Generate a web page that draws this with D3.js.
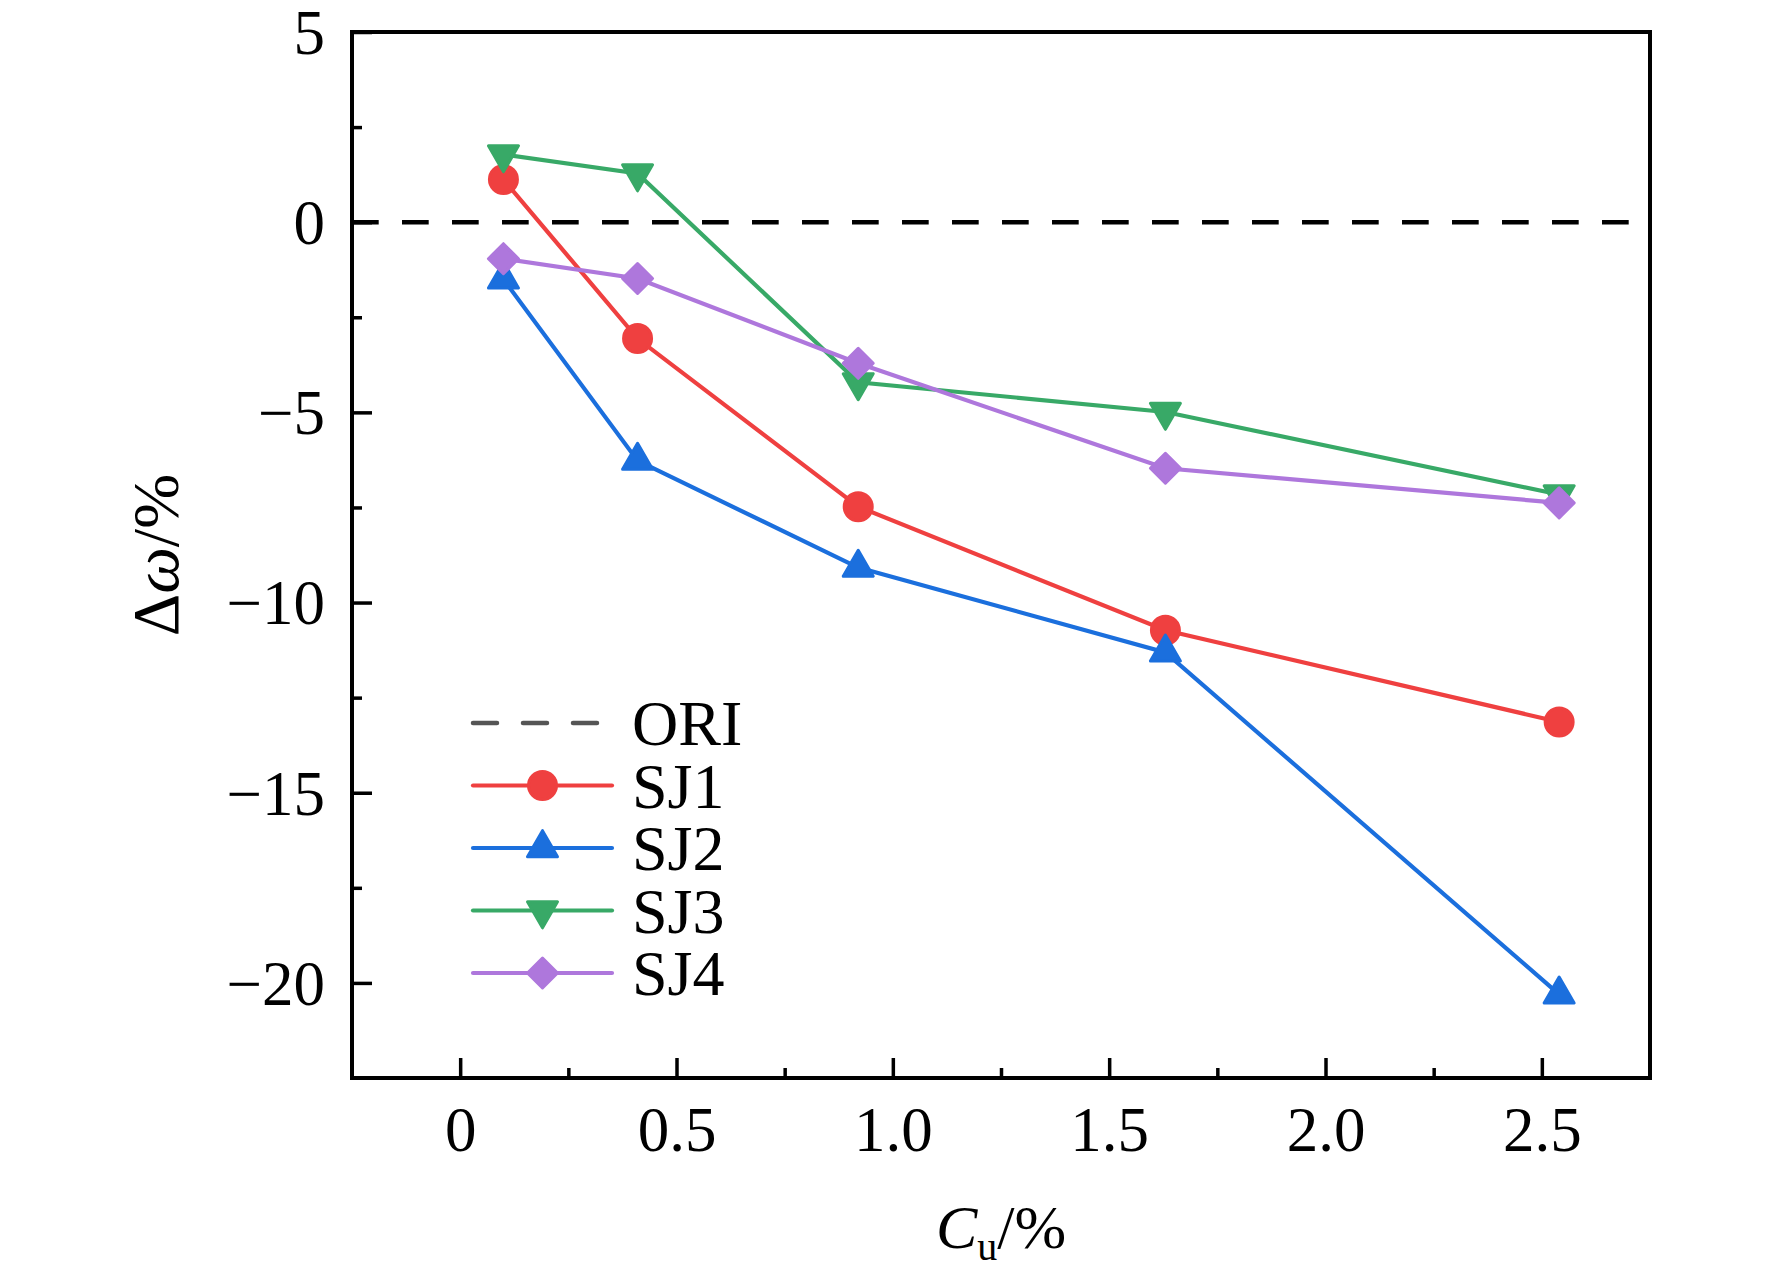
<!DOCTYPE html>
<html>
<head>
<meta charset="utf-8">
<script src="https://cdn.jsdelivr.net/npm/d3@7"></script>
<style>
  body { margin: 0; background: #fff; }
  text { font-family: "Liberation Serif", "DejaVu Serif", serif; fill: #000; }
</style>
</head>
<body>
<svg width="1772" height="1281"></svg>
<script>
// data
var cu = [0.1, 0.41, 0.92, 1.63, 2.54];
var sj1 = [1.12, -3.06, -7.48, -10.73, -13.14];
var sj2 = [-1.5, -6.27, -9.08, -11.31, -20.3];
var sj3 = [1.78, 1.28, -4.21, -4.99, -7.16];
var sj4 = [-0.96, -1.48, -3.71, -6.47, -7.38];
var names = ["SJ1", "SJ2", "SJ3", "SJ4"];
var xTicks = [0, 0.5, 1.0, 1.5, 2.0, 2.5];
var yTicks = [-20, -15, -10, -5, 0, 5];

var svg = d3.select("svg"),
    pLeft = 352, pTop = 32, pRight = 1650, pBottom = 1078;

var x = d3.scaleLinear().domain([-0.25, 2.75]).range([pLeft, pRight]);
var y = d3.scaleLinear().domain([-22.5, 5]).range([pBottom, pTop]);

var series = [
  { name: names[0], vals: sj1, color: "#EF4040", shape: "circle" },
  { name: names[1], vals: sj2, color: "#1B6FDD", shape: "up" },
  { name: names[2], vals: sj3, color: "#38A967", shape: "down" },
  { name: names[3], vals: sj4, color: "#AE77DC", shape: "diamond" }
];

// marker paths, centred on the data point (triangles on their centroid)
function marker(shape) {
  var w = 30, h = 26;
  if (shape === "circle") return d3.symbol().type(d3.symbolCircle).size(Math.PI * 14 * 14)();
  if (shape === "up") return "M0," + (-2 * h / 3) + "L" + (w / 2) + "," + (h / 3) + "L" + (-w / 2) + "," + (h / 3) + "Z";
  if (shape === "down") return "M0," + (2 * h / 3) + "L" + (w / 2) + "," + (-h / 3) + "L" + (-w / 2) + "," + (-h / 3) + "Z";
  return "M0,-15L15,0L0,15L-15,0Z";
}

// axes: ticks inward, left and bottom only
function fmtY(d) { return d < 0 ? "\u2212" + Math.abs(d) : String(d); }
function fmtX(d) { return d === 0 ? "0" : d.toFixed(1); }

var gx = svg.append("g").attr("transform", "translate(0," + pBottom + ")")
  .call(d3.axisBottom(x).tickValues(xTicks).tickFormat(fmtX).tickSize(-20).tickPadding(28));
var gxm = svg.append("g").attr("transform", "translate(0," + pBottom + ")")
  .call(d3.axisBottom(x).tickValues([0.25, 0.75, 1.25, 1.75, 2.25]).tickFormat("").tickSize(-10));
var gy = svg.append("g").attr("transform", "translate(" + pLeft + ",0)")
  .call(d3.axisLeft(y).tickValues(yTicks).tickFormat(fmtY).tickSize(-20).tickPadding(27));
var gym = svg.append("g").attr("transform", "translate(" + pLeft + ",0)")
  .call(d3.axisLeft(y).tickValues([-17.5, -12.5, -7.5, -2.5, 2.5]).tickFormat("").tickSize(-10));

[gx, gxm, gy, gym].forEach(function(g) {
  g.select(".domain").remove();
  g.selectAll(".tick line").attr("stroke", "#000").attr("stroke-width", 3.5);
  g.selectAll(".tick text").style("font-size", "63px").attr("fill", "#000");
});
gy.selectAll(".tick text").attr("dy", "0.34em");

// zero reference line (ORI)
svg.append("line")
  .attr("x1", pLeft).attr("x2", pRight)
  .attr("y1", y(0)).attr("y2", y(0))
  .attr("stroke", "#000").attr("stroke-width", 4.5)
  .attr("stroke-dasharray", "26.7 23.3");

// series
var line = d3.line().x(function(d) { return x(d[0]); }).y(function(d) { return y(d[1]); });
series.forEach(function(s) {
  var pts = cu.map(function(c, i) { return [c, s.vals[i]]; });
  svg.append("path").datum(pts)
    .attr("d", line)
    .attr("fill", "none").attr("stroke", s.color).attr("stroke-width", 4.2);
  svg.append("g").selectAll("path").data(pts).enter().append("path")
    .attr("transform", function(d) { return "translate(" + x(d[0]) + "," + y(d[1]) + ")"; })
    .attr("d", marker(s.shape))
    .attr("fill", s.color).attr("stroke", s.color)
    .attr("stroke-width", 3).attr("stroke-linejoin", "round");
});

// frame
svg.append("rect")
  .attr("x", pLeft).attr("y", pTop)
  .attr("width", pRight - pLeft).attr("height", pBottom - pTop)
  .attr("fill", "none").attr("stroke", "#000").attr("stroke-width", 4);

// legend
var lg = svg.append("g"), lx0 = 473, lx1 = 612, ly0 = 723, lstep = 62.5, tx = 632;
lg.append("line").attr("x1", lx0).attr("x2", lx1).attr("y1", ly0).attr("y2", ly0)
  .attr("stroke", "#555").attr("stroke-width", 4.5).attr("stroke-dasharray", "24 26")
  .attr("stroke-linecap", "round");
lg.append("text").attr("x", tx).attr("y", ly0).attr("dy", "0.35em")
  .style("font-size", "64px").text("ORI");
series.forEach(function(s, i) {
  var ly = ly0 + lstep * (i + 1);
  lg.append("line").attr("x1", lx0).attr("x2", lx1).attr("y1", ly).attr("y2", ly)
    .attr("stroke", s.color).attr("stroke-width", 4.2).attr("stroke-linecap", "round");
  lg.append("path").attr("transform", "translate(" + (lx0 + lx1) / 2 + "," + ly + ")")
    .attr("d", marker(s.shape))
    .attr("fill", s.color).attr("stroke", s.color)
    .attr("stroke-width", 3).attr("stroke-linejoin", "round");
  lg.append("text").attr("x", tx).attr("y", ly).attr("dy", "0.35em")
    .style("font-size", "64px").text(s.name);
});

// axis titles
var xt = svg.append("text").attr("x", (pLeft + pRight) / 2).attr("y", 1248)
  .attr("text-anchor", "middle").style("font-size", "62px");
xt.append("tspan").style("font-style", "italic").text("C");
xt.append("tspan").style("font-size", "40px").attr("dy", 12).text("u");
xt.append("tspan").attr("dy", -12).text("/%");

var yt = svg.append("text")
  .attr("transform", "translate(178," + (pTop + pBottom) / 2 + ") rotate(-90)")
  .attr("text-anchor", "middle").style("font-size", "66px");
yt.append("tspan").text("\u0394");
yt.append("tspan").style("font-style", "italic").text("\u03c9");
yt.append("tspan").text("/%");
</script>
</body>
</html>
